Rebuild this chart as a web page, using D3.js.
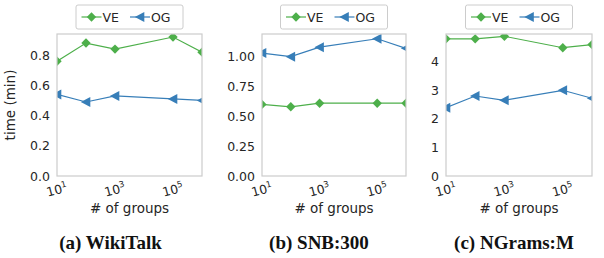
<!DOCTYPE html>
<html>
<head>
<meta charset="utf-8">
<script src="https://cdn.jsdelivr.net/npm/d3@7"></script>
<style>
  body { margin: 0; background: #fff; }
  svg { display: block; }
</style>
</head>
<body>
<script>
// number of groups on the x axis
const groups = [10, 100, 1000, 100000, 1000000];
const xTicks = [10, 1000, 100000];

// panel data (time in minutes)
const wikiVE = [0.76, 0.88, 0.84, 0.92, 0.82];
const wikiOG = [0.54, 0.49, 0.53, 0.51, 0.50];
const snbVE = [0.60, 0.58, 0.61, 0.61, 0.61];
const snbOG = [1.03, 1.00, 1.08, 1.15, 1.07];
const ngramVE = [4.80, 4.80, 4.89, 4.49, 4.60];
const ngramOG = [2.39, 2.80, 2.65, 3.00, 2.72];

const wikiTicks = [0, 0.2, 0.4, 0.6, 0.8];
const snbTicks = [0, 0.25, 0.5, 0.75, 1.0];
const ngramTicks = [0, 1, 2, 3, 4];

const width = 604, height = 258;
const green = "#4daf4a", blue = "#377eb8";
const textColor = "#262626";
const font = "DejaVu Sans, sans-serif";

const panels = [
  { caption: "(a) WikiTalk", ve: wikiVE, og: wikiOG, ticks: wikiTicks, ymax: 0.94, fmt: d3.format(".1f"),
    left: 57, right: 202, capX: 110.5, ylabel: true },
  { caption: "(b) SNB:300", ve: snbVE, og: snbOG, ticks: snbTicks, ymax: 1.19, fmt: d3.format(".2f"),
    left: 262, right: 406, capX: 319 },
  { caption: "(c) NGrams:M", ve: ngramVE, og: ngramOG, ticks: ngramTicks, ymax: 4.97, fmt: d3.format("d"),
    left: 446, right: 592, capX: 514 },
];
const plotTop = 34, plotBottom = 176;

const svg = d3.select("body").append("svg")
  .attr("width", width)
  .attr("height", height)
  .attr("viewBox", `0 0 ${width} ${height}`);

const diamond = d3.symbol().type(d3.symbolSquare).size(44)();
const triLeft = "M-5.2,0L4.3,-5L4.3,5Z";

panels.forEach((p, pi) => {
  const x = d3.scaleLog().domain([10, 1e6]).range([p.left, p.right]);
  const y = d3.scaleLinear().domain([0, p.ymax]).range([plotBottom, plotTop]);
  const g = svg.append("g");

  // clip to the axes frame
  const clipId = `clip-${pi}`;
  svg.append("clipPath").attr("id", clipId)
    .append("rect")
    .attr("x", p.left).attr("y", plotTop)
    .attr("width", p.right - p.left).attr("height", plotBottom - plotTop);

  // y ticks
  g.selectAll(".ytick")
    .data(p.ticks)
    .join("text")
    .attr("x", p.left - 7)
    .attr("y", (d) => y(d))
    .attr("dy", "0.36em")
    .attr("text-anchor", "end")
    .attr("font-family", font)
    .attr("font-size", "12.5px")
    .attr("fill", textColor)
    .text((d) => p.fmt(d));

  // x ticks, rotated powers of ten
  xTicks.forEach((t) => {
    const tx = x(t);
    const label = g.append("text")
      .attr("transform", `translate(${tx + 1},${194}) rotate(-15)`)
      .attr("text-anchor", "middle")
      .attr("font-family", font)
      .attr("font-size", "12.5px")
      .attr("fill", textColor);
    label.append("tspan").text("10");
    label.append("tspan")
      .attr("dy", -5)
      .attr("font-size", "8.5px")
      .text(Math.round(Math.log10(t)));
  });

  // x axis label
  g.append("text")
    .attr("x", (p.left + p.right) / 2)
    .attr("y", 213)
    .attr("text-anchor", "middle")
    .attr("font-family", font)
    .attr("font-size", "13.5px")
    .attr("fill", textColor)
    .text("# of groups");

  if (p.ylabel) {
    g.append("text")
      .attr("transform", `translate(15,${(plotTop + plotBottom) / 2}) rotate(-90)`)
      .attr("text-anchor", "middle")
      .attr("font-family", font)
      .attr("font-size", "13.5px")
      .attr("fill", textColor)
      .text("time (min)");
  }

  // series
  const plot = g.append("g").attr("clip-path", `url(#${clipId})`);
  const line = d3.line().x((d, i) => x(groups[i])).y((d) => y(d));
  const series = [
    { values: p.ve, color: green, marker: diamond, rot: 45 },
    { values: p.og, color: blue, marker: triLeft, rot: 0 },
  ];
  series.forEach((s) => {
    plot.append("path")
      .datum(s.values)
      .attr("d", line)
      .attr("fill", "none")
      .attr("stroke", s.color)
      .attr("stroke-width", 1.2);
    plot.selectAll(null)
      .data(s.values)
      .join("path")
      .attr("d", s.marker)
      .attr("transform", (d, i) => `translate(${x(groups[i])},${y(d)}) rotate(${s.rot})`)
      .attr("fill", s.color);
  });

  // frame
  g.append("rect")
    .attr("x", p.left).attr("y", plotTop)
    .attr("width", p.right - p.left).attr("height", plotBottom - plotTop)
    .attr("fill", "none")
    .attr("stroke", "#cccccc")
    .attr("stroke-width", 1.2);

  // legend
  const cx = (p.left + p.right) / 2;
  const lg = g.append("g").attr("transform", `translate(${cx - 53.5},5)`);
  lg.append("rect")
    .attr("width", 107).attr("height", 24)
    .attr("rx", 2)
    .attr("fill", "#fff")
    .attr("stroke", "#cccccc")
    .attr("stroke-width", 1);
  const items = [
    { name: "VE", color: green, marker: diamond, rot: 45, x0: 5.5 },
    { name: "OG", color: blue, marker: triLeft, rot: 0, x0: 54 },
  ];
  items.forEach((it) => {
    lg.append("line")
      .attr("x1", it.x0).attr("x2", it.x0 + 20)
      .attr("y1", 12).attr("y2", 12)
      .attr("stroke", it.color)
      .attr("stroke-width", 1.2);
    lg.append("path")
      .attr("d", it.marker)
      .attr("transform", `translate(${it.x0 + 10},12) rotate(${it.rot})`)
      .attr("fill", it.color);
    lg.append("text")
      .attr("x", it.x0 + 21)
      .attr("y", 12)
      .attr("dy", "0.36em")
      .attr("font-family", font)
      .attr("font-size", "12.5px")
      .attr("fill", textColor)
      .text(it.name);
  });

  // caption
  svg.append("text")
    .attr("x", p.capX)
    .attr("y", 249)
    .attr("text-anchor", "middle")
    .attr("font-family", "Liberation Serif, serif")
    .attr("font-weight", "bold")
    .attr("font-size", "19px")
    .attr("fill", "#111")
    .text(p.caption);
});
</script>
</body>
</html>
